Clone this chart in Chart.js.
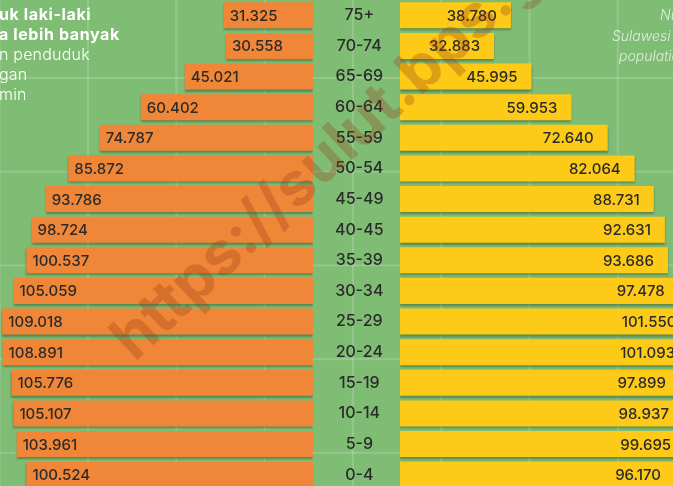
<!DOCTYPE html>
<html lang="id">
<head>
<meta charset="UTF-8">
<title>Piramida Penduduk Sulawesi Utara</title>
<script src="https://cdn.jsdelivr.net/npm/chart.js@4.4.1/dist/chart.umd.min.js"></script>
<style>
    html, body {
        margin: 0;
        padding: 0;
    }
    body {
        width: 673px;
        height: 486px;
        overflow: hidden;
        position: relative;
        font-family: Inter, "Open Sans", sans-serif;
        background-color: #80bd74;
        /* grid tipis di latar */
        background-image:
            linear-gradient(to right, rgba(255,255,255,0.16) 2px, transparent 2px),
            linear-gradient(to bottom, rgba(255,255,255,0.16) 2px, transparent 2px);
        background-size: 88.3px 93.7px;
        background-position: 87px 77px;
    }
    .box-left {
        position: absolute;
        left: 0;
        top: 0;
        width: 400px;
        height: 490px;
    }
    .box-right {
        position: absolute;
        left: 400px;
        top: 0;
        width: 300px;
        height: 490px;
    }
    .note-left {
        position: absolute;
        left: -1px;
        top: 4px;
        color: #fff;
        font-size: 16px;
        font-weight: 300;
        letter-spacing: 0.2px;
        line-height: 20px;
        white-space: nowrap;
    }
    .note-left b {
        font-weight: 700;
        letter-spacing: 0.6px;
    }
    .note-right {
        position: absolute;
        top: 5px;
        color: rgba(255,255,255,0.75);
        font-size: 14px;
        font-style: italic;
        font-weight: 300;
        line-height: 20px;
        white-space: nowrap;
    }
    .watermark {
        position: absolute;
        left: 136px;
        top: 310px;
        font-size: 61px;
        line-height: 1;
        font-weight: 700;
        color: rgba(150, 60, 20, 0.3);
        white-space: nowrap;
        transform-origin: 0 54px;
        transform: rotate(-43deg);
        pointer-events: none;
    }
</style>
</head>
<body>

<div class="box-left"><canvas id="maleChart"></canvas></div>
<div class="box-right"><canvas id="femaleChart"></canvas></div>

<div class="note-left">
    <b>uk laki-laki</b><br>
    <b>a lebih banyak</b><br>
    n penduduk<br>
    gan<br>
    min
</div>
<div class="note-right" style="left:660px">Number</div>
<div class="note-right" style="left:612px; top:26px">Sulawesi Utara</div>
<div class="note-right" style="left:619px; top:46px">population</div>

<div class="watermark">https://sulut.bps.go.id</div>

<script>
    // kelompok umur (atas ke bawah)
    const ageGroups = ['75+', '70-74', '65-69', '60-64', '55-59', '50-54', '45-49', '40-45',
        '35-39', '30-34', '25-29', '20-24', '15-19', '10-14', '5-9', '0-4'];

    // laki-laki
    const maleValues = [31325, 30558, 45021, 60402, 74787, 85872, 93786, 98724,
        100537, 105059, 109018, 108891, 105776, 105107, 103961, 100524];

    // perempuan
    const femaleValues = [38780, 32883, 45995, 59953, 72640, 82064, 88731, 92631,
        93686, 97478, 101550, 101093, 97899, 98937, 99695, 96170];

    const textColor = '#2b2b2b';
    const fmt = v => v.toLocaleString('de-DE');

    // bayangan tipis di bawah batang
    const shadowPlugin = {
        id: 'barShadow',
        beforeDatasetsDraw(chart) {
            const ctx = chart.ctx;
            ctx.save();
            ctx.shadowColor = 'rgba(40, 70, 30, 0.45)';
            ctx.shadowBlur = 2;
            ctx.shadowOffsetY = 2;
        },
        afterDatasetsDraw(chart) {
            chart.ctx.restore();
        }
    };

    // angka di dalam batang
    const valueLabels = {
        id: 'valueLabels',
        afterDatasetsDraw(chart, args, opts) {
            const ctx = chart.ctx;
            const meta = chart.getDatasetMeta(0);
            const data = chart.data.datasets[0].data;
            ctx.save();
            ctx.font = '500 15px Inter, sans-serif';
            ctx.fillStyle = textColor;
            ctx.textBaseline = 'middle';
            meta.data.forEach((bar, i) => {
                if (opts.side === 'left') {
                    ctx.textAlign = 'left';
                    ctx.fillText(fmt(data[i]), bar.x + 6, bar.y + 1);
                } else {
                    ctx.textAlign = 'right';
                    ctx.fillText(fmt(data[i]), bar.x - 14, bar.y + 1);
                }
            });
            ctx.restore();
        }
    };

    Chart.defaults.font.family = 'Inter, sans-serif';
    Chart.defaults.color = textColor;

    // laki-laki (kiri, sumbu terbalik, label umur di kanan)
    const maleChart = new Chart(document.getElementById('maleChart'), {
        type: 'bar',
        data: {
            labels: ageGroups,
            datasets: [{
                label: 'Laki-laki',
                data: maleValues,
                backgroundColor: '#f08638',
                categoryPercentage: 1,
                barPercentage: 0.85
            }]
        },
        options: {
            indexAxis: 'y',
            responsive: true,
            maintainAspectRatio: false,
            animation: false,
            layout: { padding: 0 },
            plugins: {
                legend: { display: false },
                tooltip: { enabled: false },
                valueLabels: { side: 'left' }
            },
            scales: {
                x: {
                    display: false,
                    reverse: true,
                    min: 0,
                    max: 109800
                },
                y: {
                    position: 'right',
                    grid: { display: false },
                    border: { display: false },
                    afterFit(scale) {
                        scale.width = 87;
                        scale.paddingTop = 0;
                        scale.paddingBottom = 0;
                    },
                    ticks: {
                        crossAlign: 'center',
                        padding: 14,
                        font: { size: 16, weight: '500' },
                        color: textColor
                    }
                }
            }
        },
        plugins: [shadowPlugin, valueLabels]
    });

    // perempuan (kanan)
    const femaleChart = new Chart(document.getElementById('femaleChart'), {
        type: 'bar',
        data: {
            labels: ageGroups,
            datasets: [{
                label: 'Perempuan',
                data: femaleValues,
                backgroundColor: '#fdca17',
                categoryPercentage: 1,
                barPercentage: 0.85
            }]
        },
        options: {
            indexAxis: 'y',
            responsive: true,
            maintainAspectRatio: false,
            animation: false,
            layout: { padding: 0 },
            plugins: {
                legend: { display: false },
                tooltip: { enabled: false },
                valueLabels: { side: 'right' }
            },
            scales: {
                x: {
                    display: false,
                    min: 0,
                    max: 104900
                },
                y: {
                    display: false
                }
            }
        },
        plugins: [shadowPlugin, valueLabels]
    });
</script>
</body>
</html>
